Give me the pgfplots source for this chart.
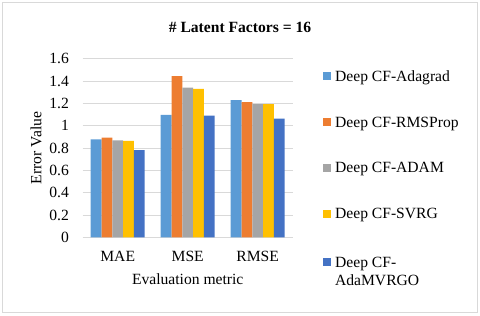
\documentclass[border=0pt]{standalone}
\usepackage{pgfplots}
\pgfplotsset{compat=1.18}
\usepackage{fontspec}
\setmainfont{Liberation Serif}
\newfontfamily\tnr{Liberation Serif}
\definecolor{cA}{HTML}{5B9BD5}
\definecolor{cB}{HTML}{ED7D31}
\definecolor{cC}{HTML}{A5A5A5}
\definecolor{cD}{HTML}{FFC000}
\definecolor{cE}{HTML}{4472C4}
\definecolor{gridc}{HTML}{D9D9D9}
\newcommand{\chartfont}{\tnr\fontsize{15.6bp}{18.4bp}\selectfont}
\begin{document}
\begin{tikzpicture}[x=1bp,y=1bp]
\useasboundingbox (0,0) rectangle (480,315);
\draw[gridc, line width=0.8bp] (2.5,2.5) rectangle (477.5,312.5);
\node[font=\chartfont\bfseries] at (240,288) {\# Latent Factors = 16};
\begin{axis}[
  at={(82.7bp,77.7bp)}, anchor=south west,
  scale only axis, width=210bp, height=178.6bp,
  ybar=0pt, bar width=10.8bp,
  xmin=-0.5, xmax=2.5, ymin=0, ymax=1.6,
  xtick={0,1,2}, xticklabels={MAE,MSE,RMSE},
  ytick={0,0.2,0.4,0.6,0.8,1,1.2,1.4,1.6},
  yticklabels={0,0.2,0.4,0.6,0.8,1,1.2,1.4,1.6},
  major tick length=0,
  axis line style={draw=none},
  ymajorgrids, grid style={gridc, line width=0.8bp},
  tick label style={font=\chartfont},
  xticklabel style={anchor=base, yshift=-24.6bp, inner sep=0pt},
  yticklabel style={anchor=east, xshift=-13.7bp, inner sep=0pt},
  xlabel={Evaluation metric}, ylabel={Error Value},
  every axis x label/.style={at={(axis description cs:0.5,-0.263)}, anchor=base, inner sep=0pt, font=\chartfont},
  every axis y label/.style={at={(axis description cs:-0.2224,0.5)}, rotate=90, anchor=center, inner sep=0pt, font=\chartfont},
  legend image code/.code={\path[#1] (0bp,1bp) rectangle (8bp,9bp);},
  legend style={at={(1.144,0.946)}, anchor=north west, draw=none, fill=none,
    font=\chartfont, inner sep=0pt, row sep=30bp, column sep=2bp,
    cells={anchor=base west, inner sep=0pt}},
]
\addplot[fill=cA, draw=none] coordinates {(0,0.878) (1,1.096) (2,1.228)};
\addplot[fill=cB, draw=none] coordinates {(0,0.893) (1,1.443) (2,1.210)};
\addplot[fill=cC, draw=none] coordinates {(0,0.869) (1,1.341) (2,1.194)};
\addplot[fill=cD, draw=none] coordinates {(0,0.863) (1,1.329) (2,1.194)};
\addplot[fill=cE, draw=none] coordinates {(0,0.780) (1,1.090) (2,1.063)};
\legend{Deep CF-Adagrad, Deep CF-RMSProp, Deep CF-ADAM, Deep CF-SVRG, {\begin{tabular}[t]{@{}l@{}}Deep CF-\\AdaMVRGO\end{tabular}}}
\end{axis}
\end{tikzpicture}
\end{document}
